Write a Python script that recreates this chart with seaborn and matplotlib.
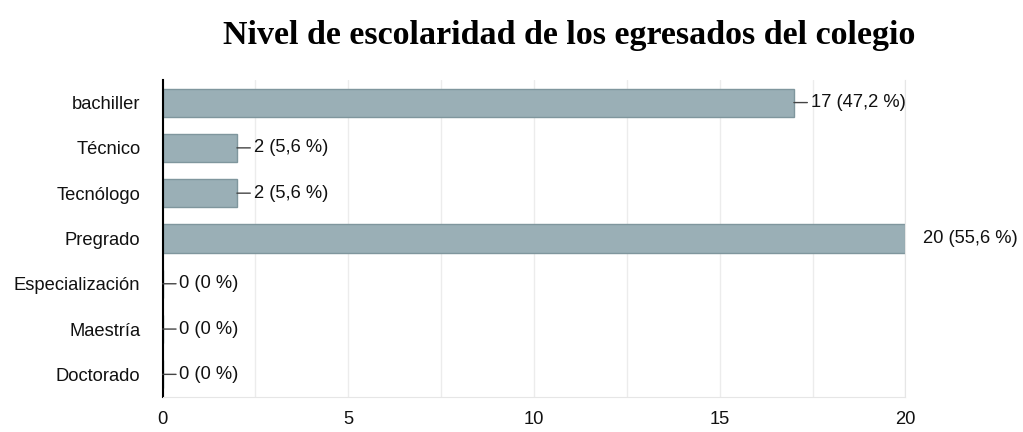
import matplotlib
matplotlib.use("Agg")
import matplotlib.pyplot as plt
import seaborn as sns
import pandas as pd
from matplotlib.ticker import MultipleLocator

niveles = ["bachiller", "Técnico", "Tecnólogo", "Pregrado",
           "Especialización", "Maestría", "Doctorado"]
cantidades = [17, 2, 2, 20, 0, 0, 0]
porcentajes = ["47,2", "5,6", "5,6", "55,6", "0", "0", "0"]

df = pd.DataFrame({"nivel": niveles, "cantidad": cantidades})

sns.set_style("white")
plt.rcParams["font.family"] = ["Liberation Sans", "DejaVu Sans"]

fig = plt.figure(figsize=(10.23, 4.32), dpi=100)
ax = fig.add_axes([0.159, 0.081, 0.726, 0.734])

sns.barplot(data=df, x="cantidad", y="nivel", orient="h", color="#9aafb6",
            saturation=1, width=0.62, edgecolor="#7f969d", linewidth=1, ax=ax)

ax.set_xlim(0, 20)
ax.xaxis.set_major_locator(MultipleLocator(5))
ax.xaxis.set_minor_locator(MultipleLocator(2.5))
ax.grid(axis="x", which="both", color="#ececec", linewidth=1)
ax.set_axisbelow(True)
ax.spines["top"].set_visible(False)
ax.spines["right"].set_color("#e6e6e6")
ax.spines["bottom"].set_color("#e6e6e6")
ax.spines["left"].set_color("black")
ax.spines["left"].set_linewidth(1.5)
ax.tick_params(axis="both", which="both", length=0, labelsize=13.2, colors="#111111")
ax.tick_params(axis="x", pad=10)
ax.tick_params(axis="y", pad=16)
ax.set_xlabel("")
ax.set_ylabel("")

for i, (v, p) in enumerate(zip(cantidades, porcentajes)):
    texto = f"{v} ({p} %)"
    if v >= 20:
        ax.annotate(texto, xy=(v, i), xytext=(13, 0), textcoords="offset points",
                    va="center", ha="left", fontsize=13.2, color="#111111",
                    annotation_clip=False)
    else:
        ax.annotate(texto, xy=(v, i), xytext=(12, 0), textcoords="offset points",
                    va="center", ha="left", fontsize=13.2, color="#111111",
                    arrowprops=dict(arrowstyle="-", color="#444444", lw=1,
                                    shrinkA=0, shrinkB=0))

fig.text(0.556, 0.918, "Nivel de escolaridad de los egresados del colegio",
         ha="center", va="center", fontsize=24.5, fontweight="bold",
         family="Liberation Serif", color="black")

fig.savefig("out.png", dpi=100)
